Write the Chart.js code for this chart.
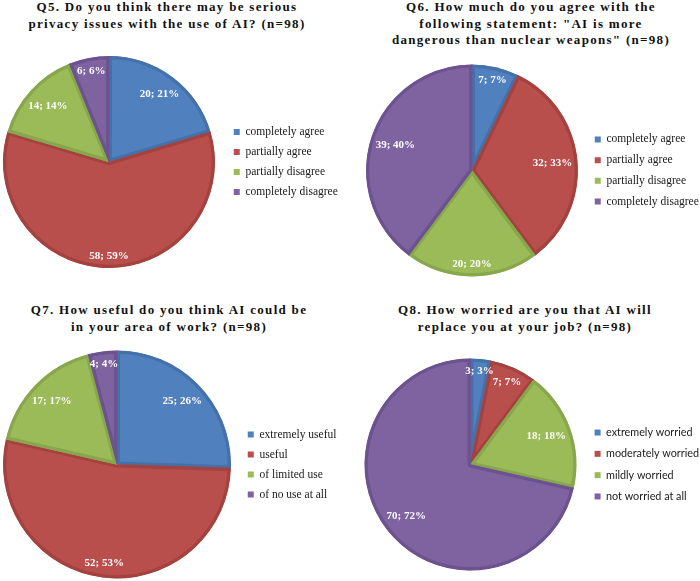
<!DOCTYPE html>
<html>
<head>
<meta charset="utf-8">
<script src="https://cdn.jsdelivr.net/npm/chart.js@4.4.1/dist/chart.umd.min.js"></script>
<style>
  html, body { margin: 0; padding: 0; background: #fff; }
  body { width: 700px; height: 581px; position: relative; overflow: hidden; }
  canvas { position: absolute; }
  .title {
    position: absolute; width: 360px; text-align: center; white-space: nowrap;
    font: bold 13px "Liberation Serif", "Times New Roman", serif;
    letter-spacing: 1.3px; line-height: 16.5px; color: #111;
  }
  #t5 { left: -13px; top: -1px; }
  #t6 { left: 351px; top: -1px; }
  #t7 { left: -11px; top: 302px; }
  #t8 { left: 345px; top: 302px; }
</style>
</head>
<body>
<div class="title" id="t5">Q5. Do you think there may be serious<br>privacy issues with the use of AI? (n=98)</div>
<div class="title" id="t6">Q6. How much do you agree with the<br>following statement: "AI is more<br>dangerous than nuclear weapons" (n=98)</div>
<div class="title" id="t7">Q7. How useful do you think AI could be<br>in your area of work? (n=98)</div>
<div class="title" id="t8">Q8. How worried are you that AI will<br>replace you at your job? (n=98)</div>
<script>
// Q5
const q5Labels = ['completely agree', 'partially agree', 'partially disagree', 'completely disagree'];
const q5Counts = [20, 58, 14, 6];
const q5Percents = [21, 59, 14, 6];
// Q6
const q6Labels = ['completely agree', 'partially agree', 'partially disagree', 'completely disagree'];
const q6Counts = [7, 32, 20, 39];
const q6Percents = [7, 33, 20, 40];
// Q7
const q7Labels = ['extremely useful', 'useful', 'of limited use', 'of no use at all'];
const q7Counts = [25, 52, 17, 4];
const q7Percents = [26, 53, 17, 4];
// Q8
const q8Labels = ['extremely worried', 'moderately worried', 'mildly worried', 'not worried at all'];
const q8Counts = [3, 7, 18, 70];
const q8Percents = [3, 7, 18, 72];

const sliceColors = ['#5080bd', '#b94f4c', '#9bbb59', '#7f63a1'];
const rimColors = ['#4471aa', '#a3423f', '#88a64c', '#6c528e'];

const serifLegend = { family: '"Liberation Serif", serif', size: 11.5 };
const sansLegend = { family: 'Lato, "Liberation Sans", sans-serif', size: 10.8 };

// Excel-like labels "n; p%" placed inside each slice near the rim
const sliceLabels = {
    id: 'sliceLabels',
    afterDatasetsDraw(chart) {
        const ctx = chart.ctx;
        const ds = chart.data.datasets[0];
        const meta = chart.getDatasetMeta(0);
        ctx.save();
        ctx.font = 'bold 11px "Liberation Serif", serif';
        ctx.fillStyle = '#ffffff';
        ctx.textAlign = 'center';
        ctx.textBaseline = 'middle';
        meta.data.forEach((arc, i) => {
            const p = arc.getProps(['x', 'y', 'startAngle', 'endAngle', 'outerRadius'], true);
            const text = ds.data[i] + '; ' + ds.percents[i] + '%';
            const w = ctx.measureText(text).width;
            const h = 10;
            const mid = (p.startAngle + p.endAngle) / 2;
            const ux = Math.cos(mid), uy = Math.sin(mid);
            const rr = p.outerRadius - 5;
            const b = Math.abs(ux) * w / 2 + Math.abs(uy) * h / 2;
            const c = (w * w + h * h) / 4 - rr * rr;
            const d = -b + Math.sqrt(b * b - c);
            ctx.fillText(text, p.x + d * ux, p.y + d * uy);
        });
        ctx.restore();
    }
};

const measureCtx = document.createElement('canvas').getContext('2d');

function createPie(panel) {
    const fs = panel.legendFont.size;
    const boxW = 6;
    const pad = panel.rowGap - fs;
    const legendLeft = panel.textX - fs / 2 - boxW - pad;
    const areaLeft = 2 * panel.cx - legendLeft;

    measureCtx.font = fs + 'px ' + panel.legendFont.family;
    const maxText = Math.max(...panel.labels.map(t => measureCtx.measureText(t).width));
    const legendW = pad + boxW + fs / 2 + maxText + 10;

    const left = Math.floor(areaLeft);
    const width = Math.ceil(legendLeft + legendW - left) + 1;
    const top = Math.floor(panel.cy - panel.r - 6);
    const height = Math.ceil(2 * (panel.cy - top));

    const canvas = document.createElement('canvas');
    canvas.width = width;
    canvas.height = height;
    canvas.style.left = left + 'px';
    canvas.style.top = top + 'px';
    canvas.style.width = width + 'px';
    canvas.style.height = height + 'px';
    document.body.appendChild(canvas);

    return new Chart(canvas.getContext('2d'), {
        type: 'pie',
        data: {
            labels: panel.labels,
            datasets: [{
                data: panel.counts,
                percents: panel.percents,
                backgroundColor: sliceColors,
                borderColor: rimColors,
                borderWidth: 3,
                borderAlign: 'inner',
                radius: panel.r,
                clip: false
            }]
        },
        options: {
            responsive: false,
            animation: false,
            events: [],
            layout: {
                padding: {
                    left: areaLeft - left,
                    right: width - (legendLeft + legendW - left),
                    top: 0,
                    bottom: 2 * top + height - 2 * panel.cy
                }
            },
            plugins: {
                tooltip: { enabled: false },
                legend: {
                    position: 'right',
                    labels: {
                        boxWidth: boxW,
                        boxHeight: boxW,
                        padding: pad,
                        color: '#1a1a1a',
                        font: panel.legendFont,
                        generateLabels: function(chart) {
                            return Chart.overrides.pie.plugins.legend.labels.generateLabels(chart)
                                .map(item => Object.assign(item, { lineWidth: 0 }));
                        }
                    }
                }
            }
        },
        plugins: [sliceLabels]
    });
}

const panels = [
    { labels: q5Labels, counts: q5Counts, percents: q5Percents, cx: 109, cy: 162, r: 106, textX: 245.5, rowGap: 20, legendFont: serifLegend },
    { labels: q6Labels, counts: q6Counts, percents: q6Percents, cx: 472, cy: 170.5, r: 106, textX: 606.5, rowGap: 20.7, legendFont: serifLegend },
    { labels: q7Labels, counts: q7Counts, percents: q7Percents, cx: 117, cy: 464.5, r: 114, textX: 259.5, rowGap: 20, legendFont: serifLegend },
    { labels: q8Labels, counts: q8Counts, percents: q8Percents, cx: 470.5, cy: 464.5, r: 106, textX: 606, rowGap: 21.3, legendFont: sansLegend }
];

panels.forEach(createPie);
</script>
</body>
</html>
